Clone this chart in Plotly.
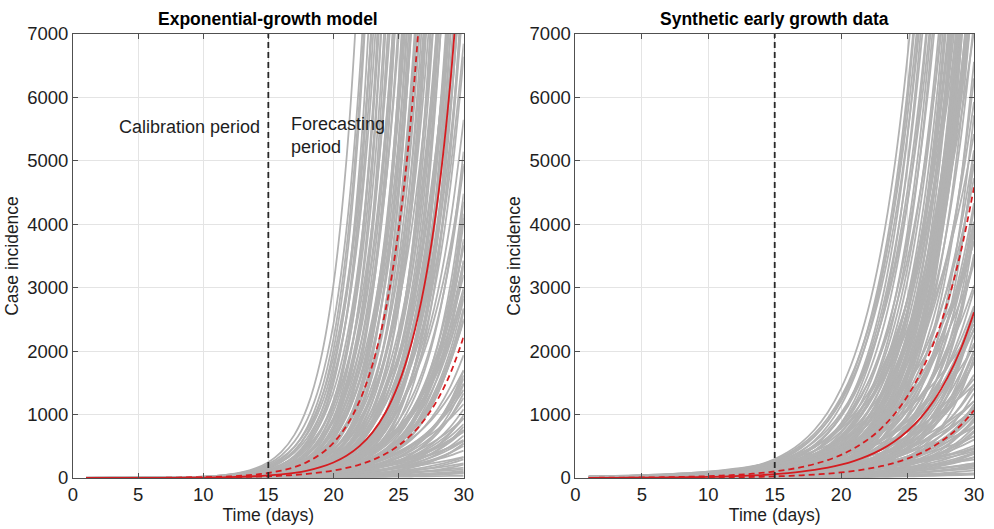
import numpy as np
import plotly.graph_objects as go

# ---------------- data ----------------
days = list(range(1, 31))
forecast_start_day = 15

titles = ["Exponential-growth model", "Synthetic early growth data"]
x_ticks = [0, 5, 10, 15, 20, 25, 30]
y_ticks = [0, 1000, 2000, 3000, 4000, 5000, 6000, 7000]

# red curves (values read at each day 1..30)
left_median = [0.25, 0.37, 0.52, 0.75, 1.08, 1.55, 2.2, 3.2, 4.6, 6.6, 9.4, 13.5, 19.4, 27.9, 40,
               57, 82, 118, 170, 244, 350, 502, 720, 1033, 1483, 2128, 3053, 4381, 6287, 9022]
left_upper = [0.33, 0.49, 0.73, 1.1, 1.6, 2.4, 3.5, 5.1, 7.6, 11.2, 16.6, 24.5, 36.2, 53.5, 79,
              117, 172, 254, 376, 555, 820, 1211, 1789, 2642, 3903, 5764, 8514, 12575, 18573, 27433]
left_lower = [0.44, 0.59, 0.79, 1.06, 1.4, 1.9, 2.6, 3.4, 4.6, 6.2, 8.3, 11.2, 15.0, 20.1, 27,
              36, 49, 65, 88, 118, 158, 212, 284, 381, 512, 687, 922, 1237, 1660, 2228]
right_median = [1.76, 2.26, 2.91, 3.74, 4.81, 6.19, 7.97, 10.2, 13.2, 16.9, 21.8, 28.0, 36.0, 46.3, 59.6,
                77, 99, 127, 163, 210, 270, 348, 447, 576, 741, 953, 1226, 1578, 2030, 2612]
right_upper = [3.0, 3.8, 4.9, 6.4, 8.2, 10.5, 13.6, 17.5, 22.5, 29.0, 37.4, 48, 62, 80, 103,
               133, 171, 220, 283, 365, 470, 605, 779, 1004, 1293, 1665, 2145, 2762, 3558, 4583]
right_lower = [0.8, 1.0, 1.3, 1.6, 2.1, 2.7, 3.5, 4.4, 5.7, 7.3, 9.4, 12.0, 15.4, 19.8, 25.4,
               33, 42, 54, 69, 88, 113, 145, 186, 239, 307, 393, 505, 647, 830, 1065]

# gray ensemble: per-curve exponential-growth parameters (cases at day 15, growth rate per day)
left_cases_day15 = [250, 220, 180, 150, 200, 120, 160, 100, 90, 130, 75, 110, 60, 140, 85, 50, 95, 70, 45, 115,
                    65, 40, 80, 55, 35, 100, 30, 70, 48, 25, 85, 38, 60, 22, 45, 30, 75, 18, 52, 35,
                    26, 15, 65, 42, 20, 28, 12, 55, 33, 17, 24, 40, 10, 14, 45, 22,
                    170, 125, 90, 65, 105, 55, 80, 42, 62, 33, 95, 50, 28, 72, 36, 20, 58, 27, 44, 16,
                    31, 50, 19, 37, 13, 25, 11, 30,
                    40, 30, 20, 55, 15, 25, 35, 12, 45, 18, 28, 10, 22, 60, 14, 32, 8, 20, 50, 16,
                    26, 38, 17, 48, 13, 24,
                    25, 40, 12, 18, 30, 9, 22, 50, 14, 35, 7, 20, 28, 10, 45, 16, 6, 25, 12, 35,
                    8, 18, 20, 5, 10, 30, 6, 14, 4, 8,
                    26, 15, 38, 11, 19, 9, 30, 13, 24, 7, 42, 16]
left_growth_rate = [0.50, 0.48, 0.50, 0.52, 0.45, 0.53, 0.46, 0.54, 0.52, 0.47, 0.54, 0.48, 0.55, 0.42, 0.48, 0.55, 0.45, 0.48, 0.52, 0.41,
                    0.45, 0.50, 0.42, 0.45, 0.50, 0.39, 0.50, 0.42, 0.44, 0.50, 0.38, 0.45, 0.40, 0.48, 0.42, 0.45, 0.36, 0.48, 0.38, 0.41,
                    0.43, 0.47, 0.34, 0.37, 0.43, 0.40, 0.46, 0.34, 0.37, 0.43, 0.40, 0.35, 0.46, 0.43, 0.335, 0.39,
                    0.47, 0.50, 0.49, 0.51, 0.44, 0.50, 0.45, 0.50, 0.46, 0.49, 0.41, 0.44, 0.47, 0.40, 0.44, 0.47, 0.39, 0.44, 0.39, 0.46,
                    0.41, 0.36, 0.43, 0.37, 0.45, 0.39, 0.44, 0.36,
                    0.33, 0.34, 0.37, 0.30, 0.38, 0.34, 0.31, 0.39, 0.28, 0.35, 0.31, 0.40, 0.32, 0.26, 0.35, 0.29, 0.42, 0.33, 0.27, 0.34,
                    0.33, 0.30, 0.36, 0.28, 0.37, 0.31,
                    0.29, 0.25, 0.33, 0.30, 0.26, 0.34, 0.27, 0.21, 0.29, 0.22, 0.33, 0.25, 0.22, 0.28, 0.17, 0.23, 0.30, 0.19, 0.22, 0.15,
                    0.24, 0.17, 0.14, 0.25, 0.16, 0.10, 0.18, 0.11, 0.20, 0.10,
                    0.27, 0.31, 0.24, 0.32, 0.26, 0.30, 0.20, 0.27, 0.23, 0.29, 0.19, 0.24]

right_cases_day15 = [300, 250, 220, 270, 180, 200, 150, 240, 130, 170, 110, 210, 95, 140, 120, 80, 190, 100, 70, 160,
                     85, 60, 125, 75, 230, 105, 50, 65, 145, 90, 55, 115, 45, 180, 70, 40, 95, 35, 60, 260,
                     30, 80, 48, 25,
                     285, 205, 160, 135, 115, 88, 155, 68, 98, 52, 78, 120, 42, 62, 33,
                     200, 120, 70, 40, 150, 90, 55, 30, 250, 110, 65, 35, 20, 170, 80, 45, 25, 130, 60, 15,
                     100, 40, 220, 28, 75, 50, 18, 140, 35, 90, 22, 60, 12, 180, 30, 45, 110, 20, 70, 10,
                     38, 15,
                     160, 95, 52, 28, 135, 72, 38, 22, 105, 58, 32, 16, 85, 48, 26,
                     55, 25, 130, 12, 35, 80, 8, 20, 50, 100, 14, 30, 6, 65, 18, 10, 40, 25, 7, 15, 30, 5,
                     42, 18, 27, 9, 33, 13,
                     40, 20, 60, 12, 28, 9]
right_growth_rate = [0.31, 0.32, 0.33, 0.30, 0.34, 0.32, 0.35, 0.29, 0.34, 0.31, 0.35, 0.28, 0.34, 0.30, 0.31, 0.35, 0.27, 0.32, 0.36, 0.28,
                     0.33, 0.36, 0.29, 0.33, 0.25, 0.30, 0.37, 0.34, 0.27, 0.31, 0.35, 0.285, 0.36, 0.25, 0.32, 0.37, 0.295, 0.38, 0.33, 0.22,
                     0.39, 0.30, 0.34, 0.40,
                     0.30, 0.31, 0.33, 0.32, 0.33, 0.34, 0.29, 0.35, 0.31, 0.36, 0.32, 0.28, 0.37, 0.33, 0.38,
                     0.22, 0.26, 0.30, 0.34, 0.23, 0.27, 0.30, 0.35, 0.18, 0.24, 0.28, 0.32, 0.37, 0.20, 0.25, 0.29, 0.33, 0.21, 0.26, 0.37,
                     0.22, 0.28, 0.16, 0.30, 0.23, 0.25, 0.33, 0.18, 0.27, 0.20, 0.30, 0.22, 0.36, 0.14, 0.26, 0.23, 0.16, 0.28, 0.19, 0.35,
                     0.22, 0.29,
                     0.21, 0.25, 0.29, 0.33, 0.19, 0.24, 0.28, 0.32, 0.18, 0.23, 0.27, 0.33, 0.17, 0.21, 0.25,
                     0.18, 0.24, 0.12, 0.28, 0.19, 0.14, 0.30, 0.21, 0.15, 0.10, 0.22, 0.16, 0.28, 0.10, 0.17, 0.20, 0.11, 0.12, 0.19, 0.10, 0.06, 0.16,
                     0.21, 0.26, 0.24, 0.31, 0.20, 0.27,
                     0.17, 0.20, 0.13, 0.22, 0.14, 0.20]

# ---------------- figure ----------------
FONT = "Liberation Sans, Arial, Helvetica, sans-serif"
GRAY = "rgb(178,178,178)"
RED = "rgb(213,28,32)"
TXT = "rgb(30,30,30)"

fig = go.Figure()
d = np.array(days, dtype=float)

panels = [
    ("x", "y", left_cases_day15, left_growth_rate, left_median, left_upper, left_lower),
    ("x2", "y2", right_cases_day15, right_growth_rate, right_median, right_upper, right_lower),
]

for xa, ya, c15s, rates, med, up, lo in panels:
    for c15, r in zip(c15s, rates):
        yv = c15 * np.exp(r * (d - forecast_start_day))
        fig.add_trace(go.Scatter(x=days, y=yv, mode="lines", xaxis=xa, yaxis=ya,
                                 line=dict(color=GRAY, width=1.8, shape="spline"),
                                 hoverinfo="skip", showlegend=False))
    for vals, dash in [(up, "6px,4px"), (lo, "6px,4px"), (med, "solid")]:
        fig.add_trace(go.Scatter(x=days, y=vals, mode="lines", xaxis=xa, yaxis=ya,
                                 line=dict(color=RED, width=1.8, dash=dash, shape="spline"),
                                 showlegend=False))

W, H = 994, 529
ml, mr, mt, mb = 73, 10, 34, 42
pw = W - ml - mr
dom1 = [0, (468 - 73) / pw]
dom2 = [(581 - 73) / pw, 1.0]

axis_common = dict(
    showgrid=True, gridcolor="rgb(228,228,228)", gridwidth=1,
    showline=True, linecolor="rgb(80,80,80)", linewidth=1, mirror="ticks",
    ticks="inside", ticklen=5, tickcolor="rgb(80,80,80)",
    tickfont=dict(family=FONT, size=18.5, color=TXT),
    zeroline=False,
)

xtitle = dict(text="Time (days)", font=dict(family=FONT, size=17.5, color=TXT), standoff=2)
ytitle = dict(text="Case incidence", font=dict(family=FONT, size=17.5, color=TXT), standoff=4)

fig.update_layout(
    width=W, height=H,
    margin=dict(l=ml, r=mr, t=mt, b=mb),
    paper_bgcolor="white", plot_bgcolor="white",
    font=dict(family=FONT, color=TXT),
    showlegend=False,
    xaxis=dict(domain=dom1, range=[0, 30], tickvals=x_ticks, anchor="y", title=xtitle, **axis_common),
    yaxis=dict(domain=[0, 1], range=[0, 7000], tickvals=y_ticks, anchor="x", title=ytitle, **axis_common),
    xaxis2=dict(domain=dom2, range=[0, 30], tickvals=x_ticks, anchor="y2", title=xtitle, **axis_common),
    yaxis2=dict(domain=[0, 1], range=[0, 7000], tickvals=y_ticks, anchor="x2", title=ytitle, **axis_common),
)

for xr, yr in [("x", "y"), ("x2", "y2")]:
    fig.add_shape(type="line", xref=xr, yref=f"{yr} domain", x0=forecast_start_day, x1=forecast_start_day,
                  y0=0, y1=1, line=dict(color="rgb(40,40,40)", width=1.8, dash="6px,4px"), layer="above")

for xr, t in zip(["x domain", "x2 domain"], titles):
    fig.add_annotation(text=f"<b>{t}</b>", xref=xr, yref="paper", x=0.5, y=1, yanchor="bottom",
                       yshift=3, showarrow=False, font=dict(family=FONT, size=17.5, color="black"))

fig.add_annotation(text="Calibration period", xref="x", yref="y", x=3.4, y=5530, xanchor="left",
                   yanchor="middle", showarrow=False, font=dict(family=FONT, size=18, color=TXT))
fig.add_annotation(text="Forecasting<br>period", xref="x", yref="y", x=16.6, y=5400, xanchor="left",
                   yanchor="middle", align="left", showarrow=False,
                   font=dict(family=FONT, size=18, color=TXT))

fig.write_html("out.html")
